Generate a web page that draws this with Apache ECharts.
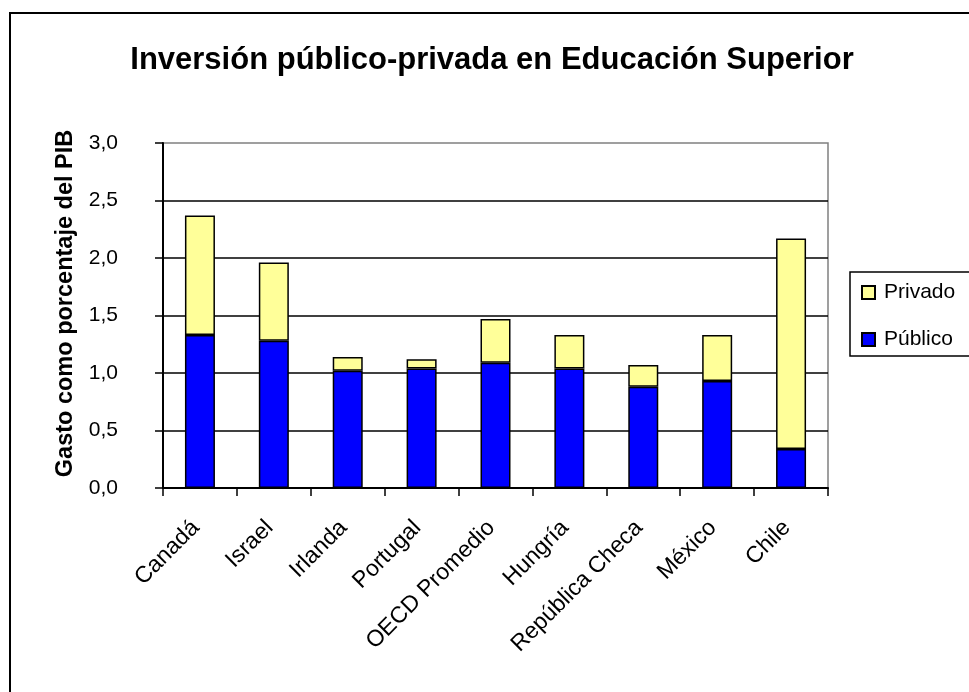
<!DOCTYPE html>
<html>
<head>
<meta charset="utf-8">
<script src="https://cdn.jsdelivr.net/npm/echarts@6/dist/echarts.min.js"></script>
<style>
html,body{margin:0;padding:0;background:#fff;}
#chart{width:969px;height:692px;}
</style>
</head>
<body>
<div id="chart"></div>
<script>
const categories = ['Canadá', 'Israel', 'Irlanda', 'Portugal', 'OECD Promedio', 'Hungría', 'República Checa', 'México', 'Chile'];
const publico = [1.33, 1.28, 1.02, 1.04, 1.09, 1.04, 0.88, 0.93, 0.34];
const privado = [1.04, 0.68, 0.12, 0.08, 0.38, 0.29, 0.19, 0.40, 1.83];
const yTicks = { min: 0, max: 3, interval: 0.5 };

const FONT = "'Liberation Sans', Arial, sans-serif";
const chart = echarts.init(document.getElementById('chart'), null, { renderer: 'canvas' });
chart.setOption({
  backgroundColor: '#ffffff',
  animation: false,
  textStyle: { fontFamily: FONT, color: '#000' },
  title: {
    text: 'Inversión público-privada en Educación Superior',
    left: 492, top: 45, padding: 0, textAlign: 'center',
    textStyle: { fontFamily: FONT, fontSize: 31, fontWeight: 'bold', color: '#000' }
  },
  graphic: [{
    type: 'rect', z: -10, silent: true,
    shape: { x: 10, y: 13, width: 1000, height: 720 },
    style: { fill: 'none', stroke: '#000', lineWidth: 2 }
  }, {
    type: 'rect', z: 1, silent: true,
    shape: { x: 850, y: 272, width: 200, height: 84 },
    style: { fill: 'none', stroke: '#000', lineWidth: 1.5 }
  }],
  legend: {
    data: ['Privado', 'Público'],
    orient: 'vertical',
    left: 850, top: 272,
    padding: [10, 0, 6, 11],
    itemWidth: 13, itemHeight: 13, itemGap: 26,
    icon: 'rect',
    textStyle: { fontFamily: FONT, fontSize: 21, color: '#000', padding: [0, 0, 0, 4] }
  },
  grid: {
    left: 163, right: 141, top: 143, bottom: 204,
    show: true, borderColor: '#808080', borderWidth: 1.5, backgroundColor: 'transparent'
  },
  xAxis: {
    type: 'category',
    data: categories,
    axisLine: { show: true, lineStyle: { color: '#000', width: 2 } },
    axisTick: { show: true, alignWithLabel: false, length: 8, lineStyle: { color: '#000', width: 1.5 } },
    axisLabel: {
      rotate: 45, interval: 0, margin: 32,
      fontFamily: FONT, fontSize: 23, color: '#000',
      padding: [0, 6, 0, 0]
    }
  },
  yAxis: {
    type: 'value',
    min: yTicks.min, max: yTicks.max, interval: yTicks.interval,
    name: 'Gasto como porcentaje del PIB',
    nameLocation: 'middle', nameRotate: 90, nameGap: 84,
    nameTextStyle: { fontFamily: FONT, fontSize: 23.5, fontWeight: 'bold', color: '#000', padding: [0, 0, 0, 24] },
    axisLine: { show: true, lineStyle: { color: '#000', width: 2 } },
    axisTick: { show: true, length: 8, lineStyle: { color: '#000', width: 1.5 } },
    axisLabel: {
      margin: 45, fontFamily: FONT, fontSize: 21, color: '#000',
      formatter: v => v.toFixed(1).replace('.', ',')
    },
    splitLine: { show: true, showMaxLine: false, lineStyle: { color: '#000', width: 1.5 } }
  },
  series: [
    {
      name: 'Público', type: 'bar', stack: 'total', barWidth: 30,
      data: publico,
      itemStyle: { color: '#0000FF', borderColor: '#000', borderWidth: 1.5 }
    },
    {
      name: 'Privado', type: 'bar', stack: 'total', barWidth: 30,
      data: privado,
      itemStyle: { color: '#FFFF99', borderColor: '#000', borderWidth: 1.5 }
    }
  ]
});
</script>
</body>
</html>
